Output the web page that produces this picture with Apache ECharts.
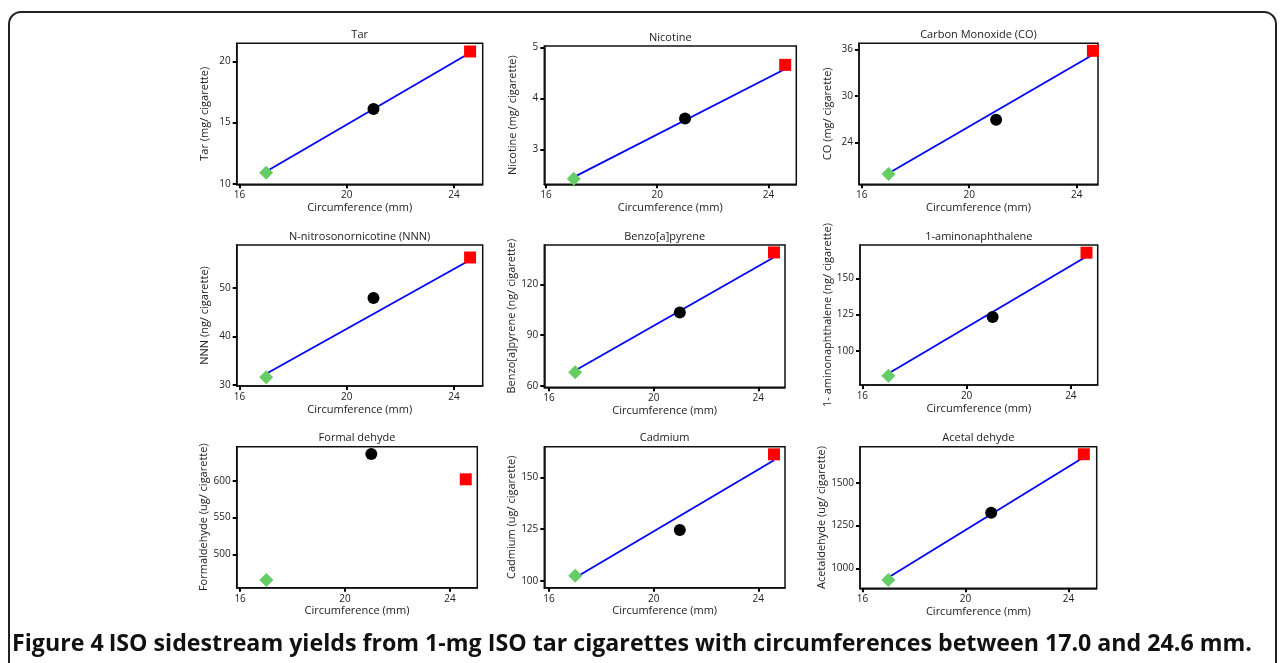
<!DOCTYPE html>
<html><head><meta charset="utf-8">
<script src="https://cdn.jsdelivr.net/npm/echarts@6/dist/echarts.min.js"></script>
<style>html,body{margin:0;padding:0;background:#fff;}#c{width:1281px;height:663px;}</style>
</head><body><div id="c"></div>
<script>
// ---- data ----
const circumference = [17.0, 21.0, 24.6];
const fitX = [17.0, 24.6];
const xTicks = [16, 20, 24];
const titles = ['Tar', 'Nicotine', 'Carbon Monoxide (CO)', 'N-nitrosonornicotine (NNN)', 'Benzo[a]pyrene', '1-aminonaphthalene', 'Formal dehyde', 'Cadmium', 'Acetal dehyde'];
const yNames = ['Tar (mg/ cigarette)', 'Nicotine (mg/ cigarette)', 'CO (mg/ cigarette)', 'NNN (ng/ cigarette)', 'Benzo[a]pyrene (ng/ cigarette)', '1- aminonaphthalene (ng/ cigarette)', 'Formaldehyde (ug/ cigarette)', 'Cadmium (ug/ cigarette)', 'Acetaldehyde (ug/ cigarette)'];
const xLabel = 'Circumference (mm)';

const tarY = [10.9, 16.1, 20.8];      const tarFit = [11.0, 20.7];   const tarTicks = [10, 15, 20];       const tarRange = [9.95, 21.47];
const nicY = [2.43, 3.61, 4.66];      const nicFit = [2.46, 4.58];   const nicTicks = [3, 4, 5];          const nicRange = [2.32, 5.03];
const coY = [19.9, 26.9, 35.8];       const coFit = [20.0, 35.3];    const coTicks = [24, 30, 36];        const coRange = [18.58, 36.77];
const nnnY = [31.6, 47.9, 56.2];      const nnnFit = [32.3, 55.7];   const nnnTicks = [30, 40, 50];       const nnnRange = [29.8, 58.77];
const bapY = [67.9, 103.4, 138.9];    const bapFit = [69.0, 136.0];  const bapTicks = [60, 90, 120];      const bapRange = [59.05, 143.3];
const anY = [83.0, 123.3, 167.6];     const anFit = [84.5, 165.0];   const anTicks = [100, 125, 150];     const anRange = [76.6, 172.9];
const formY = [464.9, 636.8, 602.3];  const formFit = null;          const formTicks = [500, 550, 600];   const formRange = [454.4, 646.8];
const cdY = [102.4, 124.5, 161.1];    const cdFit = [101.4, 158.2];  const cdTicks = [100, 125, 150];     const cdRange = [96.6, 164.8];
const acY = [932, 1324, 1666];        const acFit = [946, 1648];     const acTicks = [1000, 1250, 1500];  const acRange = [883, 1710];

const xRanges = [[15.9, 25.07], [15.94, 25.0], [15.9, 24.79], [15.9, 25.07], [15.82, 25.02], [15.91, 25.03], [15.87, 25.04], [15.82, 25.02], [15.9, 25.1]];

// ---- layout (pixel boxes of plot areas) ----
const boxes = [
  [236.7, 43.3, 482.7, 184.3], [544.3, 46, 796.3, 184.3], [859, 43.3, 1098, 184.3],
  [236.7, 245, 482.7, 386],   [544.3, 245, 785, 387.3],  [860, 245, 1097.7, 385],
  [236.7, 446.7, 477.3, 587.7], [544.3, 446.7, 785, 587.7], [860, 446.7, 1096.7, 588.3]
];

const ys = [tarY, nicY, coY, nnnY, bapY, anY, formY, cdY, acY];
const fits = [tarFit, nicFit, coFit, nnnFit, bapFit, anFit, formFit, cdFit, acFit];
const ticks = [tarTicks, nicTicks, coTicks, nnnTicks, bapTicks, anTicks, formTicks, cdTicks, acTicks];
const ranges = [tarRange, nicRange, coRange, nnnRange, bapRange, anRange, formRange, cdRange, acRange];

const symbols = ['diamond', 'circle', 'rect'];
const colors = ['#66cc66', '#000000', '#ff0000'];
const sizes = [14, 12, 12];
const FONT = 'Open Sans';
const plain = v => String(v);

const grid = [], xAxis = [], yAxis = [], series = [], title = [];
boxes.forEach((b, i) => {
  grid.push({left: b[0], top: b[1], width: b[2] - b[0], height: b[3] - b[1], show: true,
    borderColor: '#111', borderWidth: 1.5, backgroundColor: 'transparent'});
  xAxis.push({type: 'value', gridIndex: i, min: xRanges[i][0], max: xRanges[i][1],
    name: xLabel, nameLocation: 'middle', nameGap: 18,
    nameTextStyle: {fontFamily: FONT, fontSize: 11, color: '#222'},
    axisLine: {show: true, lineStyle: {color: '#111', width: 1.5}},
    axisTick: {show: true, length: 4, customValues: xTicks, lineStyle: {color: '#000', width: 2}},
    axisLabel: {customValues: xTicks, formatter: plain, fontFamily: FONT, fontSize: 10, color: '#222', margin: 6},
    splitLine: {show: false}});
  yAxis.push({type: 'value', gridIndex: i, min: ranges[i][0], max: ranges[i][1],
    name: yNames[i], nameLocation: 'middle', nameGap: 26, nameRotate: 90,
    nameTextStyle: {fontFamily: FONT, fontSize: 11, color: '#222'},
    axisLine: {show: true, lineStyle: {color: '#111', width: 1.5}},
    axisTick: {show: true, length: 4, customValues: ticks[i], lineStyle: {color: '#000', width: 2}},
    axisLabel: {customValues: ticks[i], formatter: plain, fontFamily: FONT, fontSize: 10, color: '#222', margin: 6},
    splitLine: {show: false}});
  title.push({text: titles[i], left: (b[0] + b[2]) / 2, top: b[1] - 14, textAlign: 'center', padding: 0,
    textStyle: {fontFamily: FONT, fontSize: 11, fontWeight: 'normal', color: '#222'}});
  if (fits[i]) {
    series.push({type: 'line', xAxisIndex: i, yAxisIndex: i, showSymbol: false, silent: true,
      data: fitX.map((x, k) => [x, fits[i][k]]), lineStyle: {color: '#0000ff', width: 1.8}, z: 2});
  }
  series.push({type: 'scatter', xAxisIndex: i, yAxisIndex: i, z: 3,
    data: circumference.map((x, k) => ({value: [x, ys[i][k]], symbol: symbols[k], symbolSize: sizes[k],
      itemStyle: {color: colors[k], opacity: 1}}))});
});

title.push({text: '{b|Figure 4} {n|ISO sidestream yields from 1-mg ISO tar cigarettes with circumferences between 17.0 and 24.6 mm.}',
  left: 12, top: 633, padding: 0,
  textStyle: {rich: {b: {fontFamily: FONT, fontSize: 23.2, fontWeight: 'bold', color: '#111'},
    n: {fontFamily: FONT, fontSize: 23.2, fontWeight: 'bold', color: '#111'}}}});

const chart = echarts.init(document.getElementById('c'), null, {renderer: 'canvas'});
chart.setOption({
  animation: false,
  backgroundColor: '#fff',
  title, grid, xAxis, yAxis, series,
  graphic: [{type: 'rect', shape: {x: 9, y: 12, width: 1267, height: 700, r: 12},
    style: {fill: 'none', stroke: '#222', lineWidth: 2}, silent: true}]
});
</script></body></html>
